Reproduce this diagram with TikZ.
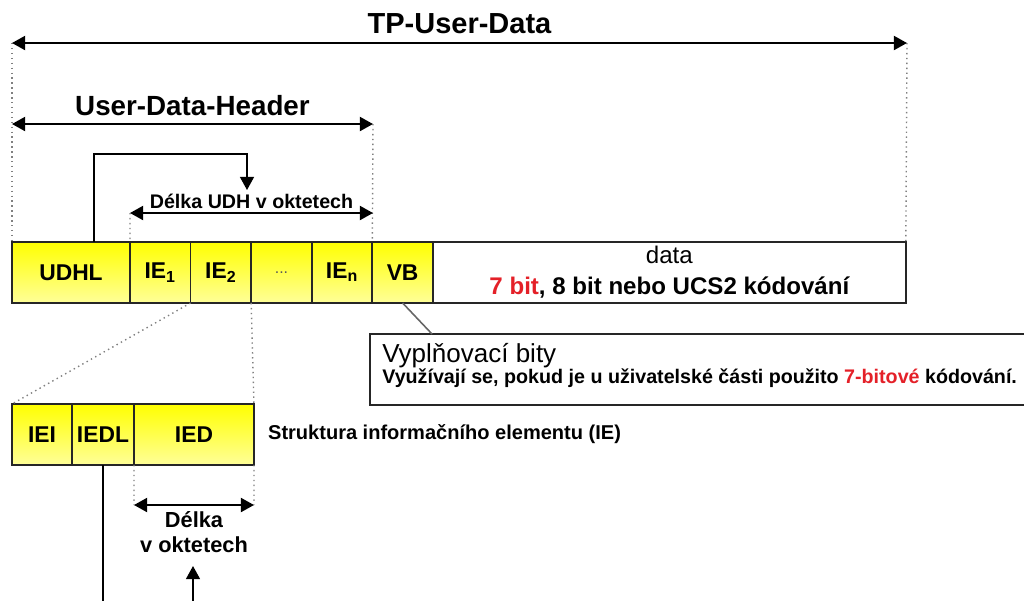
\documentclass[tikz,border=0pt]{standalone}
\usepackage{fontspec}
\setmainfont{Liberation Sans}
\usetikzlibrary{positioning,arrows.meta}
\definecolor{hlred}{RGB}{228,32,40}
\begin{document}
\begin{tikzpicture}[
    x=0.02cm, y=-0.02cm,
    field/.style={rectangle, draw=black!85, line width=1pt, top color=yellow, bottom color=yellow!40!white, minimum width=1.212cm, minimum height=1.22cm, inner sep=0pt, outer sep=0pt, font=\bfseries\fontsize{13}{15}\selectfont},
    databox/.style={rectangle, draw=black!85, line width=1pt, fill=white, minimum height=1.22cm, inner sep=0pt, outer sep=0pt, align=center, font=\fontsize{13.7}{17.6}\selectfont},
    note/.style={rectangle, draw=black!85, line width=0.9pt, fill=white, inner sep=0pt, outer sep=0pt},
    dim/.style={{Triangle[length=7.5pt,width=8pt]}-{Triangle[length=7.5pt,width=8pt]}, line width=1.2pt},
    link/.style={-{Triangle[length=7.5pt,width=8pt]}, line width=0.9pt},
    guide/.style={gray, line width=0.8pt, dash pattern=on 0.8pt off 2pt},
    leader/.style={gray!80!black, line width=0.9pt}
]
\useasboundingbox (0,0) rectangle (1024,600);

\node[field, minimum width=2.36cm, anchor=north west] (udhl) at (12,242) {UDHL};
\node[field, right=0pt of udhl] (ie1) {IE\textsubscript{1}};
\node[field, right=0pt of ie1] (ie2) {IE\textsubscript{2}};
\node[field, right=0pt of ie2, font=\fontsize{9}{10}\selectfont\color{gray!70!black}] (iedots) {...};
\node[field, right=0pt of iedots] (ien) {IE\textsubscript{n}};
\node[field, right=0pt of ien] (vb) {VB};
\node[databox, right=0pt of vb, minimum width=9.46cm] (data) {data\\{\bfseries\textcolor{hlred}{7 bit}, 8 bit nebo UCS2 kódování}};

\node[field, minimum width=1.2cm, anchor=north west] (iei) at (12,404) {IEI};
\node[field, right=0pt of iei, minimum width=1.24cm] (iedl) {IEDL};
\node[field, right=0pt of iedl, minimum width=2.4cm] (ied) {IED};
\node[anchor=west, font=\bfseries\fontsize{11.4}{13}\selectfont] (iecaption) at ([xshift=0.16cm]ied.east) {Struktura informačního elementu (IE)};

\node[note, anchor=north west, minimum width=13.6cm, minimum height=1.42cm] (fillnote) at (370,334) {};
\node[anchor=base west, inner sep=0pt, font=\fontsize{14.8}{17}\selectfont] (fbtitle) at ([xshift=0.24cm, yshift=-0.56cm]fillnote.north west) {Vyplňovací bity};
\node[anchor=base west, inner sep=0pt, font=\bfseries\fontsize{11.2}{13}\selectfont] (fbtext) at ([xshift=0.24cm, yshift=-0.98cm]fillnote.north west) {Využívají se, pokud je u uživatelské části použito \textcolor{hlred}{7-bitové} kódování.};
\draw[leader] (vb.south) -- ([xshift=1.24cm]fillnote.north west);

\coordinate (tpL) at (12,43);
\coordinate (tpR) at (907,43);
\coordinate (udhL) at (12,124);
\coordinate (udhR) at (373,124);
\coordinate (lenL) at (130,213);
\coordinate (lenR) at (373,213);
\coordinate (udhbend) at (247,154);
\coordinate (udhtip) at (247,190);
\coordinate (iedL) at (134,505);
\coordinate (iedR) at (254,505);
\coordinate (iedbend) at (193,610);
\coordinate (iedtip) at (193,566);

\draw[guide] (tpL) -- (udhl.north west);
\draw[guide] (tpR) -- (data.north east);
\draw[guide] (udhR) -- (vb.north west);
\draw[guide] (lenL) -- (ie1.north west);
\draw[guide] (ie2.south west) -- (iei.north west);
\draw[guide] (ie2.south east) -- (ied.north east);
\draw[guide] (ied.south west) -- (iedL);
\draw[guide] (ied.south east) -- (iedR);

\draw[dim] (tpL) -- node[above, inner sep=4.5pt, font=\bfseries\fontsize{16.5}{19}\selectfont] (tplabel) {TP-User-Data} (tpR);
\draw[dim] (udhL) -- node[above, inner sep=4pt, font=\bfseries\fontsize{15.8}{18}\selectfont] (udhlabel) {User-Data-Header} (udhR);
\draw[dim] (lenL) -- node[above, inner sep=1.7pt, font=\bfseries\fontsize{11.2}{13}\selectfont] (lenlabel) {Délka UDH v oktetech} (lenR);
\draw[dim] (iedL) -- node[below, inner sep=3pt, align=center, font=\bfseries\fontsize{12.4}{14.2}\selectfont] (iedlabel) {Délka\\v oktetech} (iedR);

\draw[link] ([xshift=0.46cm]udhl.north) |- (udhbend) -- (udhtip);
\draw[link] (iedl.south) |- (iedbend) -- (iedtip);
\end{tikzpicture}
\end{document}
